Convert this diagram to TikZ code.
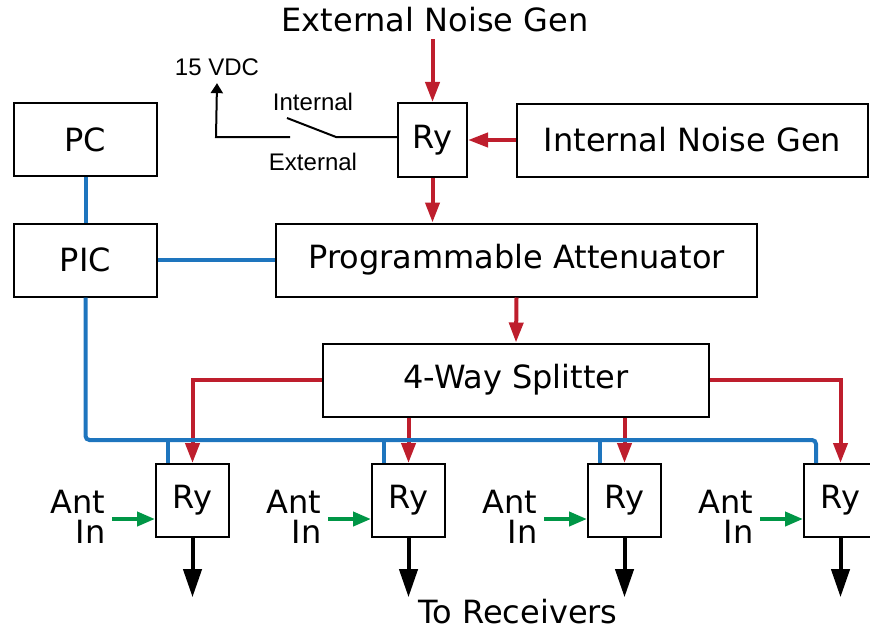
\documentclass[tikz,border=0pt]{standalone}
\usepackage{fontspec}
\setmainfont{DejaVu Sans}
\newfontfamily\swfont{Liberation Sans}
\usetikzlibrary{arrows.meta,calc}
\definecolor{sigred}{RGB}{190,30,45}
\definecolor{busblue}{RGB}{30,117,190}
\definecolor{antgreen}{RGB}{0,150,70}

\begin{document}
\begin{tikzpicture}[x=0.5pt,y=-0.5pt,font=\fontsize{16}{15}\selectfont,
  blk/.style={draw,line width=1pt,inner sep=0pt,minimum height=36.5pt},
  ry/.style={blk,minimum width=36.5pt},
  rf/.style={draw=sigred,line width=2pt,-{Triangle[length=10pt,width=7pt]}},
  ctl/.style={draw=busblue,line width=2pt},
  ant/.style={draw=antgreen,line width=2pt,-{Triangle[length=9pt,width=7pt]}},
  rx/.style={line width=2pt,-{Triangle[length=14pt,width=9pt]}},
  sw/.style={line width=1pt,font=\swfont\fontsize{12}{14}\selectfont}]
\useasboundingbox (0,0) rectangle (870,631);
\node[blk,minimum width=71.5pt] (pc)  at (85.5,139.5) {PC};
\node[blk,minimum width=71.5pt] (pic) at (85.5,260) {PIC};
\node[ry,minimum width=34.5pt,minimum height=37pt] (ryn) at (432.5,140) {Ry};
\node[blk,minimum width=175.5pt] (ing) at (692.5,140) {Internal Noise Gen};
\node (eng) at (435,20) {External Noise Gen};
\node[blk,minimum width=240.5pt] (att) at (516.5,260) {Programmable Attenuator};
\node[blk,minimum width=193pt] (spl) at (516,380) {4-Way Splitter};
\node[ry] (ry1) at (192.5,500.5) {Ry};
\node[ry] (ry2) at (408.5,500.5) {Ry};
\node[ry] (ry3) at (624.5,500.5) {Ry};
\node[ry] (ry4) at (840.5,500.5) {Ry};
\node[align=right] (ant1) at (78,517) {Ant\\In};
\node[align=right] (ant2) at (294,517) {Ant\\In};
\node[align=right] (ant3) at (510,517) {Ant\\In};
\node[align=right] (ant4) at (726,517) {Ant\\In};
\node[inner sep=1pt] (rcv) at (518,612) {To Receivers};
\node[sw] (vdc) at (217,67) {15 VDC};
\node[sw] (int) at (313,102) {Internal};
\node[sw] (ext) at (313,162) {External};
\coordinate (swc) at (216,137);
\coordinate (swa) at (290,137);
\coordinate (swb) at (287,118);
\coordinate (swp) at (336,137);
\draw[sw,-{Triangle[length=5pt,width=6pt]}] (swa) -- (swc) -- (vdc.south);
\draw[sw] (swb) -- (swp) -- (swp -| ryn.west);
\draw[rf] (eng.south -| ryn.north) -- (ryn.north);
\draw[rf] (ing.west) -- (ryn.east);
\draw[rf] (ryn.south) -- (ryn.south |- att.north);
\draw[rf] (att.south) -- (spl.north);
\draw[rf] (spl.west) -| (ry1.north);
\draw[rf] (ry2.north |- spl.south) -- (ry2.north);
\draw[rf] (ry3.north |- spl.south) -- (ry3.north);
\draw[rf] (spl.east) -| (ry4.north);
\coordinate (bus) at (0,440);
\coordinate (c1) at ($(ry1.north west)+(13,0)$);
\coordinate (c2) at ($(ry2.north west)+(13,0)$);
\coordinate (c3) at ($(ry3.north west)+(13,0)$);
\coordinate (c4) at ($(ry4.north west)+(13,0)$);
\draw[ctl] (pc.south) -- (pic.north);
\draw[ctl] (pic.east) -- (att.west);
\draw[ctl,rounded corners=2pt] (pic.south) |- (bus -| c4) -- (c4);
\draw[ctl] (bus -| c1) -- (c1);
\draw[ctl] (bus -| c2) -- (c2);
\draw[ctl] (bus -| c3) -- (c3);
\draw[ant] (ant1.east |- ry1.south) ++(0,-19) coordinate (g1) (g1) -- (g1 -| ry1.west);
\draw[ant] (ant2.east |- ry2.south) ++(0,-19) coordinate (g2) (g2) -- (g2 -| ry2.west);
\draw[ant] (ant3.east |- ry3.south) ++(0,-19) coordinate (g3) (g3) -- (g3 -| ry3.west);
\draw[ant] (ant4.east |- ry4.south) ++(0,-19) coordinate (g4) (g4) -- (g4 -| ry4.west);
\draw[rx] (ry1.south) -- (ry1.south |- rcv.north);
\draw[rx] (ry2.south) -- (ry2.south |- rcv.north);
\draw[rx] (ry3.south) -- (ry3.south |- rcv.north);
\draw[rx] (ry4.south) -- (ry4.south |- rcv.north);
\end{tikzpicture}
\end{document}
